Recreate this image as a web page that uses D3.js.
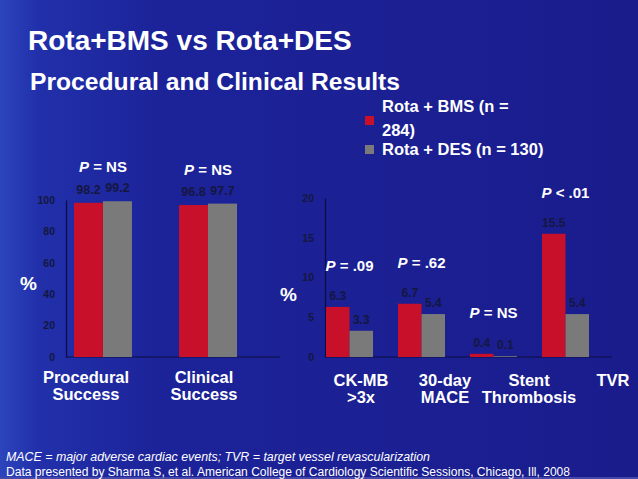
<!DOCTYPE html>
<html><head><meta charset="utf-8">
<script src="https://cdn.jsdelivr.net/npm/d3@7"></script>
<style>html,body{margin:0;padding:0;background:#1b1e92;}svg{display:block;}text{font-family:"Liberation Sans",Arial,sans-serif;}</style>
</head><body>
<svg id="c" width="638" height="479"></svg>
<script>
// ---- data ----
const seriesNames = ["Rota + BMS (n = 284)", "Rota + DES (n = 130)"];
const leftCategories = ["Procedural Success", "Clinical Success"];
const leftLabelLines = [["Procedural", "Success"], ["Clinical", "Success"]];
const leftBMS = [98.2, 96.8];
const leftDES = [99.2, 97.7];
const leftP = ["NS", "NS"];
const leftPOp = ["=", "="];
const leftTicks = [0, 20, 40, 60, 80, 100];

const rightCategories = ["CK-MB >3x", "30-day MACE", "Stent Thrombosis", "TVR"];
const rightLabelLines = [["CK-MB", ">3x"], ["30-day", "MACE"], ["Stent", "Thrombosis"], ["TVR"]];
const rightBMS = [6.3, 6.7, 0.4, 15.5];
const rightDES = [3.3, 5.4, 0.1, 5.4];
const rightP = [".09", ".62", "NS", ".01"];
const rightPOp = ["=", "=", "=", "<"];
const rightTicks = [0, 5, 10, 15, 20];

const colors = ["#c8102b", "#7a7a7a"];
const darkText = "#15173f";

const svg = d3.select("#c");
// background
const defs = svg.append("defs");
const g1 = defs.append("linearGradient").attr("id", "bg").attr("x1", 0).attr("x2", 1).attr("y1", 0).attr("y2", 0);
g1.append("stop").attr("offset", "0").attr("stop-color", "#2c44bc");
g1.append("stop").attr("offset", "0.06").attr("stop-color", "#2130aa");
g1.append("stop").attr("offset", "0.25").attr("stop-color", "#1c2399");
g1.append("stop").attr("offset", "1").attr("stop-color", "#1a1c8c");
svg.append("rect").attr("width", 638).attr("height", 479).attr("fill", "url(#bg)");
svg.append("rect").attr("y", 477).attr("width", 638).attr("height", 2).attr("fill", "#4448a8");

// titles
svg.append("text").attr("x", 28).attr("y", 50).attr("fill", "#fff").attr("font-size", 28).attr("font-weight", "bold").text("Rota+BMS vs Rota+DES");
svg.append("text").attr("x", 30).attr("y", 90).attr("fill", "#fff").attr("font-size", 24).attr("font-weight", "bold")
  .attr("textLength", 370).attr("lengthAdjust", "spacingAndGlyphs").text("Procedural and Clinical Results");

// legend
const leg = svg.append("g");
leg.append("rect").attr("x", 365).attr("y", 116).attr("width", 9).attr("height", 9).attr("fill", colors[0]);
leg.append("rect").attr("x", 365).attr("y", 145).attr("width", 9).attr("height", 9).attr("fill", colors[1]);
const legText1 = seriesNames[0].replace(" 284)", "");
leg.append("text").attr("x", 382).attr("y", 112).attr("fill", "#fff").attr("font-size", 16.5).attr("font-weight", "bold").text(legText1);
leg.append("text").attr("x", 382).attr("y", 136).attr("fill", "#fff").attr("font-size", 16.5).attr("font-weight", "bold").text("284)");
leg.append("text").attr("x", 382).attr("y", 155).attr("fill", "#fff").attr("font-size", 16.5).attr("font-weight", "bold").text(seriesNames[1]);

function drawChart(opt) {
  const g = svg.append("g");
  const x0 = d3.scaleBand().domain(opt.cats).range(opt.barRange).paddingInner(opt.padIn).paddingOuter(0);
  const x1 = d3.scaleBand().domain([0, 1]).range([0, x0.bandwidth()]);
  const y = d3.scaleLinear().domain([0, opt.max]).range([opt.y0, opt.yTop]);
  // axis
  const ax = g.append("g").attr("transform", `translate(${opt.axisX},0)`)
    .call(d3.axisLeft(y).tickValues(opt.ticks).tickSize(0).tickPadding(opt.tickPad));
  ax.select(".domain").attr("stroke", "#0c0d3e").attr("stroke-width", 1.2);
  ax.selectAll("text").attr("fill", darkText).attr("font-size", 10.5).attr("font-weight", "bold")
    .style("font-family", "'Liberation Sans', Arial, sans-serif");
  g.append("line").attr("x1", opt.axisX).attr("x2", opt.baseEnd).attr("y1", y(0)).attr("y2", y(0))
    .attr("stroke", "#0c0d3e").attr("stroke-width", 1.2);
  // bars
  opt.cats.forEach((c, i) => {
    [opt.a[i], opt.b[i]].forEach((v, s) => {
      g.append("rect").attr("x", x0(c) + x1(s)).attr("y", y(v)).attr("width", x1.bandwidth())
        .attr("height", y(0) - y(v)).attr("fill", colors[s]);
      g.append("text").attr("x", x0(c) + x1(s) + x1.bandwidth() / 2).attr("y", y(v) - opt.valGap)
        .attr("text-anchor", "middle").attr("fill", darkText).attr("font-size", opt.valSize).attr("font-weight", "bold").text(v);
    });
    const m = Math.max(opt.a[i], opt.b[i]);
    const pt = g.append("text").attr("x", x0(c) + x0.bandwidth() / 2).attr("y", y(m) - opt.pGap)
      .attr("text-anchor", "middle").attr("fill", "#fff").attr("font-size", 15).attr("font-weight", "bold");
    pt.append("tspan").attr("font-style", "italic").text("P");
    pt.append("tspan").text(" " + opt.pOp[i] + " " + opt.p[i]);
  });
  // category labels
  const lx = d3.scalePoint().domain(opt.cats).range(opt.labelRange);
  opt.cats.forEach((c, i) => {
    opt.lines[i].forEach((ln, k) => {
      g.append("text").attr("x", lx(c)).attr("y", opt.labelY[k]).attr("text-anchor", "middle")
        .attr("fill", "#fff").attr("font-size", 16.5).attr("font-weight", "bold").text(ln);
    });
  });
  g.append("text").attr("x", opt.pctX).attr("y", opt.pctY).attr("fill", "#fff").attr("font-size", 19).attr("font-weight", "bold").text("%");
}

drawChart({cats: leftCategories, a: leftBMS, b: leftDES, p: leftP, pOp: leftPOp, lines: leftLabelLines,
  ticks: leftTicks, max: 100, y0: 357, yTop: 200, axisX: 66, baseEnd: 280, tickPad: 11,
  barRange: [74, 237], padIn: 0.448, valGap: 9, valSize: 12.5, pGap: 29,
  labelRange: [86, 204], labelY: [383, 400], pctX: 20, pctY: 290});

drawChart({cats: rightCategories, a: rightBMS, b: rightDES, p: rightP, pOp: rightPOp, lines: rightLabelLines,
  ticks: rightTicks, max: 20, y0: 357, yTop: 198, axisX: 325, baseEnd: 612, tickPad: 11,
  barRange: [326, 589], padIn: 0.347, valGap: 7, valSize: 12, pGap: 36,
  labelRange: [361, 613], labelY: [386, 403], pctX: 280, pctY: 301});

// footnotes
svg.append("text").attr("x", 6).attr("y", 461).attr("fill", "#fff").attr("font-size", 12).attr("font-style", "italic")
  .attr("textLength", 424).attr("lengthAdjust", "spacingAndGlyphs")
  .text("MACE = major adverse cardiac events; TVR = target vessel revascularization");
svg.append("text").attr("x", 6).attr("y", 476).attr("fill", "#fff").attr("font-size", 12)
  .attr("textLength", 564).attr("lengthAdjust", "spacingAndGlyphs")
  .text("Data presented by Sharma S, et al. American College of Cardiology Scientific Sessions, Chicago, Ill, 2008");
</script>
</body></html>
